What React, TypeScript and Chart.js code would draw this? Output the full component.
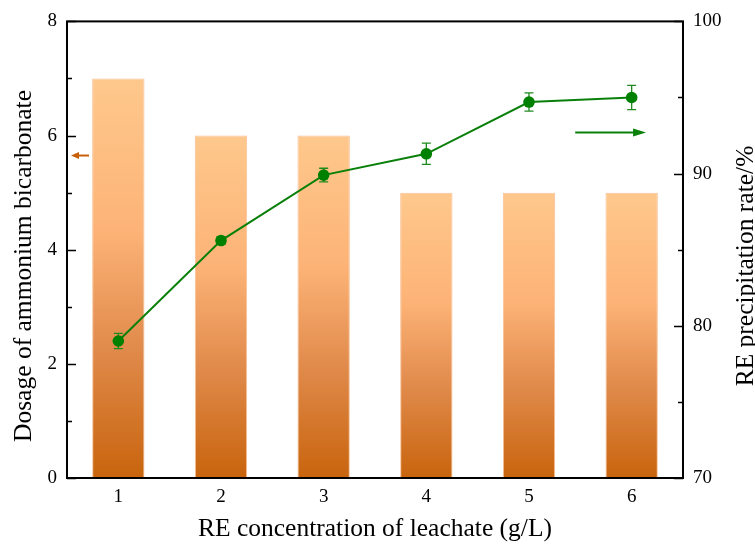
import React, { useEffect, useRef } from "react";
import { Chart, registerables } from "chart.js";

Chart.register(...registerables);

// Leachate RE concentration (g/L)
const categories = ["1", "2", "3", "4", "5", "6"];
// Dosage of ammonium bicarbonate (left axis)
const dosage = [7, 6, 6, 5, 5, 5];
// RE precipitation rate, % (right axis) and its error
const precipitationRate = [79.0, 85.6, 89.9, 91.3, 94.7, 95.0];
const rateError = [0.5, 0.25, 0.45, 0.7, 0.6, 0.8];

const leftTicks = [0, 2, 4, 6, 8];
const rightTicks = [70, 80, 90, 100];

const FONT = "'Liberation Serif', 'Times New Roman', serif";
const GREEN = "#0a800a";
const ORANGE_ARROW = "#c8600a";

function barGradient(ctx: any) {
  const chart = ctx.chart;
  const scale = chart.scales?.y;
  if (!scale || !chart.chartArea) return "#f5a868";
  const v = dosage[ctx.dataIndex] ?? 0;
  const top = scale.getPixelForValue(v);
  const base = scale.getPixelForValue(0);
  const g = chart.ctx.createLinearGradient(0, top, 0, base);
  g.addColorStop(0, "#fec88c");
  g.addColorStop(0.38, "#fdb377");
  g.addColorStop(0.68, "#e08a4b");
  g.addColorStop(1, "#c8640d");
  return g;
}

function arrow(c: CanvasRenderingContext2D, x1: number, x2: number, y: number, color: string, headLen: number, headHalf: number, dir: 1 | -1) {
  c.save();
  c.strokeStyle = color;
  c.fillStyle = color;
  c.lineWidth = 2;
  const tip = dir === 1 ? x2 : x1;
  const tail = dir === 1 ? x1 : x2;
  c.beginPath();
  c.moveTo(tail, y);
  c.lineTo(tip - dir * headLen * 0.8, y);
  c.stroke();
  c.beginPath();
  c.moveTo(tip, y);
  c.lineTo(tip - dir * headLen, y - headHalf);
  c.lineTo(tip - dir * headLen, y + headHalf);
  c.closePath();
  c.fill();
  c.restore();
}

const decorPlugin = {
  id: "decor",
  beforeDatasetDraw(chart: any, args: any) {
    if (args.index !== 1) return;
    // error bars behind the rate markers
    const c = chart.ctx as CanvasRenderingContext2D;
    const yR = chart.scales.y1;
    const meta = chart.getDatasetMeta(1);
    c.save();
    c.strokeStyle = "#1f8a1f";
    c.lineWidth = 1.3;
    meta.data.forEach((pt: any, i: number) => {
      const x = pt.x;
      const hi = yR.getPixelForValue(precipitationRate[i] + rateError[i]);
      const lo = yR.getPixelForValue(precipitationRate[i] - rateError[i]);
      c.beginPath();
      c.moveTo(x, hi);
      c.lineTo(x, lo);
      c.moveTo(x - 4.5, hi);
      c.lineTo(x + 4.5, hi);
      c.moveTo(x - 4.5, lo);
      c.lineTo(x + 4.5, lo);
      c.stroke();
    });
    c.restore();
  },
  afterDraw(chart: any) {
    const c = chart.ctx as CanvasRenderingContext2D;
    const { left, right, top, bottom } = chart.chartArea;
    const yL = chart.scales.y;
    const yR = chart.scales.y1;

    // frame
    c.save();
    c.strokeStyle = "#000";
    c.lineWidth = 2;
    c.strokeRect(left, top, right - left, bottom - top);

    // inward ticks, major and minor
    c.lineWidth = 1.5;
    c.beginPath();
    for (let v = 0; v <= 8; v += 1) {
      const y = Math.round(yL.getPixelForValue(v)) + 0.5;
      const len = v % 2 === 0 ? 9 : 5;
      c.moveTo(left, y);
      c.lineTo(left + len, y);
    }
    for (let v = 70; v <= 100; v += 5) {
      const y = Math.round(yR.getPixelForValue(v)) + 0.5;
      const len = v % 10 === 0 ? 9 : 5;
      c.moveTo(right, y);
      c.lineTo(right - len, y);
    }
    c.stroke();
    c.restore();

    // axis direction arrows
    const w = right - left;
    arrow(c, left + 4, left + 22, yL.getPixelForValue(5.65), ORANGE_ARROW, 8, 3.5, -1);
    arrow(c, left + w * 0.825, left + w * 0.94, yR.getPixelForValue(92.7), GREEN, 13, 4, 1);

    // axis titles
    c.save();
    c.fillStyle = "#000";
    c.font = `25.5px ${FONT}`;
    c.textAlign = "center";
    c.textBaseline = "middle";
    c.fillText("RE concentration of leachate (g/L)", (left + right) / 2, 529);
    c.save();
    c.translate(24, 266);
    c.rotate(-Math.PI / 2);
    c.fillText("Dosage of ammonium bicarbonate", 0, 0);
    c.restore();
    c.save();
    c.translate(746, 266);
    c.rotate(-Math.PI / 2);
    c.fillText("RE precipitation rate/%", 0, 0);
    c.restore();
    c.restore();
  },
};

export default function App() {
  const ref = useRef<HTMLCanvasElement | null>(null);

  useEffect(() => {
    if (!ref.current) return;
    const chart = new Chart(ref.current, {
      data: {
        labels: categories,
        datasets: [
          {
            type: "bar",
            label: "Dosage",
            data: dosage,
            yAxisID: "y",
            backgroundColor: barGradient as any,
            borderColor: "rgba(245,165,105,0.7)",
            borderWidth: 1,
            categoryPercentage: 1,
            barPercentage: 0.51,
            order: 2,
          },
          {
            type: "line",
            label: "Precipitation rate",
            data: precipitationRate,
            yAxisID: "y1",
            borderColor: GREEN,
            backgroundColor: GREEN,
            borderWidth: 2,
            pointRadius: 5.8,
            pointBorderWidth: 0,
            pointBackgroundColor: "#008000",
            tension: 0,
            order: 1,
          },
        ],
      },
      options: {
        responsive: false,
        animation: false,
        layout: { padding: { top: 21, left: 0, right: 0, bottom: 0 } },
        plugins: {
          legend: { display: false },
          tooltip: { enabled: false },
        },
        scales: {
          x: {
            type: "category",
            offset: true,
            grid: { display: false, drawTicks: false },
            border: { display: false },
            ticks: { color: "#000", font: { family: FONT, size: 19 }, padding: 8 },
            afterFit: (s: any) => {
              s.height = 546 - 478;
            },
          },
          y: {
            type: "linear",
            position: "left",
            min: 0,
            max: 8,
            afterBuildTicks: (s: any) => {
              s.ticks = leftTicks.map((v) => ({ value: v }));
            },
            grid: { display: false, drawTicks: false },
            border: { display: false },
            ticks: { color: "#000", font: { family: FONT, size: 19 }, padding: 10 },
            afterFit: (s: any) => {
              s.width = 67;
            },
          },
          y1: {
            type: "linear",
            position: "right",
            min: 70,
            max: 100,
            afterBuildTicks: (s: any) => {
              s.ticks = rightTicks.map((v) => ({ value: v }));
            },
            grid: { display: false, drawTicks: false },
            border: { display: false },
            ticks: { color: "#000", font: { family: FONT, size: 19 }, padding: 10 },
            afterFit: (s: any) => {
              s.width = 755 - 683;
            },
          },
        },
      },
      plugins: [decorPlugin],
    });
    return () => chart.destroy();
  }, []);

  return (
    <div style={{ position: "fixed", left: 0, top: 0, width: 755, height: 546, background: "#fff" }}>
      <canvas ref={ref} width={755} height={546} style={{ width: 755, height: 546 }} />
    </div>
  );
}
